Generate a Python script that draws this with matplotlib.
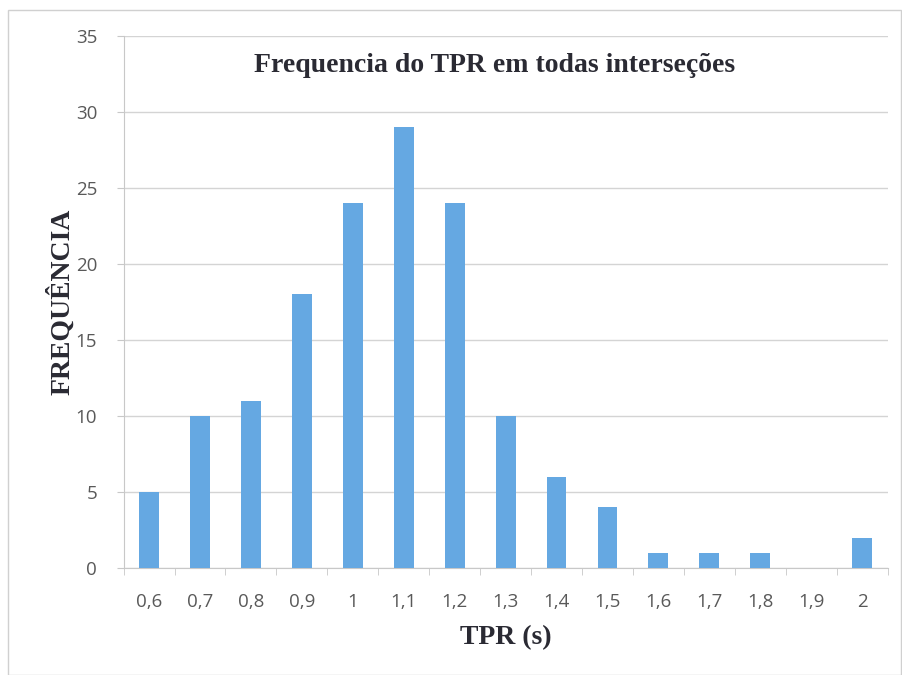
import matplotlib.pyplot as plt
from matplotlib.patches import Rectangle
import numpy as np

# Dados
tpr_labels = ["0,6", "0,7", "0,8", "0,9", "1", "1,1", "1,2", "1,3",
              "1,4", "1,5", "1,6", "1,7", "1,8", "1,9", "2"]
frequencia = [5, 10, 11, 18, 24, 29, 24, 10, 6, 4, 1, 1, 1, 0, 2]
y_ticks = [0, 5, 10, 15, 20, 25, 30, 35]

fig = plt.figure(figsize=(9.02, 6.75), dpi=100)
fig.patches.append(Rectangle((0.009, 0.0), 0.99, 0.985, transform=fig.transFigure,
                             fill=False, edgecolor="#d0d0d0", lw=1.0))
ax = fig.add_axes([0.137, 0.1585, 0.847, 0.788])

x = np.arange(len(frequencia))
ax.bar(x, frequencia, width=0.39, color="#65a8e2", zorder=3)

ax.set_xlim(-0.5, len(frequencia) - 0.5)
ax.set_ylim(0, 35)
ax.set_yticks(y_ticks)
ax.set_xticks(x)
ax.set_xticklabels(tpr_labels)
ax.set_xticks(np.arange(len(frequencia) + 1) - 0.5, minor=True)

ax.grid(axis="y", color="#d4d4d4", lw=1.0, zorder=0)
for s in ["top", "right"]:
    ax.spines[s].set_visible(False)
ax.spines["left"].set_color("#c8c8c8")
ax.spines["bottom"].set_color("#c8c8c8")

ax.tick_params(axis="x", which="major", length=0, pad=18,
               labelsize=13.5, labelcolor="#595959")
ax.tick_params(axis="x", which="minor", length=5, color="#c8c8c8")
ax.tick_params(axis="y", length=5, color="#c8c8c8", pad=14,
               labelsize=13.5, labelcolor="#595959")
for lab in ax.get_xticklabels() + ax.get_yticklabels():
    lab.set_family("Open Sans")

ax.text(0.485, 0.945, "Frequencia do TPR em todas interseções", transform=ax.transAxes,
        ha="center", va="center", fontsize=20, fontweight="bold",
        family="Liberation Serif", color="#2a2a33")
ax.set_ylabel("FREQUÊNCIA", fontsize=20, fontweight="bold",
              family="Liberation Serif", color="#2a2a33", labelpad=0)
ax.set_xlabel("TPR (s)", fontsize=20, fontweight="bold",
              family="Liberation Serif", color="#2a2a33", labelpad=10)

fig.savefig("out.png", dpi=100)
